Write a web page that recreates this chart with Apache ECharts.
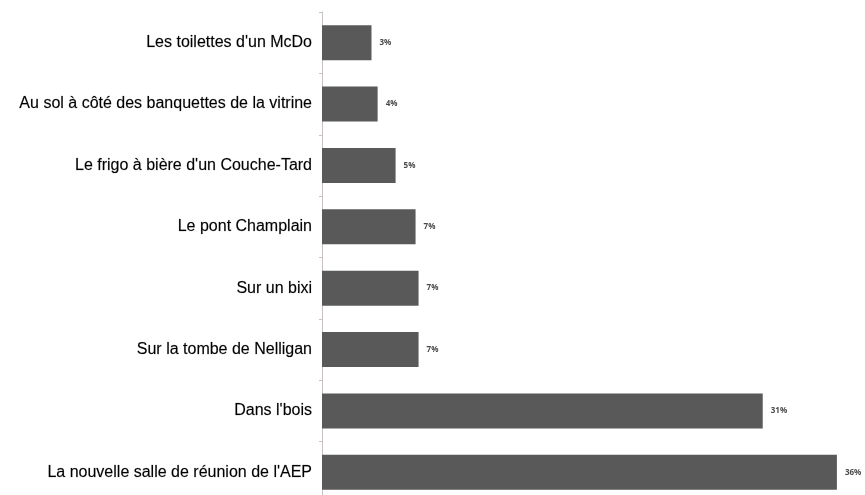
<!DOCTYPE html>
<html>
<head>
<meta charset="utf-8">
<script src="https://cdn.jsdelivr.net/npm/echarts@6/dist/echarts.min.js"></script>
<style>html,body{margin:0;padding:0;background:#fff;}#c{width:865px;height:495px;}</style>
</head>
<body>
<div id="c"></div>
<script>
var categories = [
  "Les toilettes d'un McDo",
  "Au sol à côté des banquettes de la vitrine",
  "Le frigo à bière d'un Couche-Tard",
  "Le pont Champlain",
  "Sur un bixi",
  "Sur la tombe de Nelligan",
  "Dans l'bois",
  "La nouvelle salle de réunion de l'AEP"
];
var values = [3.47, 3.9, 5.16, 6.56, 6.77, 6.77, 30.9, 36.1];

var chart = echarts.init(document.getElementById('c'));
chart.setOption({
  animation: false,
  backgroundColor: '#fff',
  grid: { left: 322, right: 1, top: 12, height: 491, containLabel: false, outerBoundsMode: 'none' },
  xAxis: {
    type: 'value', min: 0, max: 38,
    show: false
  },
  yAxis: {
    type: 'category', data: categories, inverse: true,
    axisLine: { show: true, lineStyle: { color: '#c9c1c1', width: 1 } },
    axisTick: { show: true, length: 3, lineStyle: { color: '#c9c1c1' } },
    axisLabel: { color: '#000', fontSize: 16, fontFamily: 'Liberation Sans, Arial, sans-serif', margin: 10,
      textBorderColor: 'rgba(0,0,0,0.35)', textBorderWidth: 0.4 }
  },
  series: [{
    type: 'bar', data: values, barCategoryGap: '43%',
    itemStyle: { color: '#595959' },
    label: {
      show: true, position: 'right', distance: 8,
      color: '#4a4a4a', fontSize: 8, fontWeight: 'bold',
      fontFamily: 'Open Sans, sans-serif',
      formatter: function (p) { return Math.round(p.value) + '%'; }
    }
  }]
});
</script>
</body>
</html>
